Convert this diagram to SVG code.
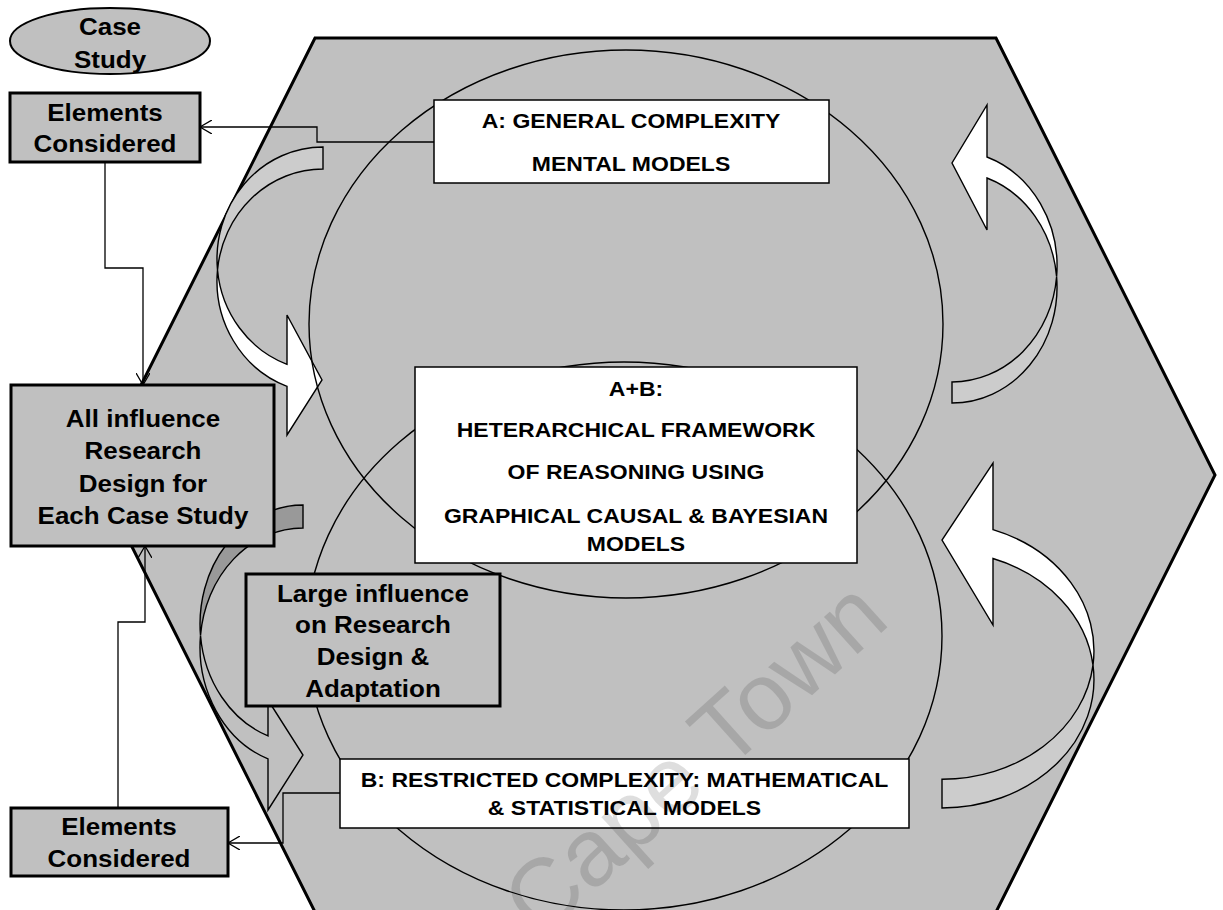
<svg xmlns="http://www.w3.org/2000/svg" width="1223" height="910" viewBox="0 0 1223 910">
  <defs>
    <style>
      .hex { fill: #c0c0c0; stroke: #000; stroke-width: 3; stroke-linejoin: miter; }
      .ring { fill: none; stroke: #000; stroke-width: 1.4; }
      .gbox { fill: #c0c0c0; stroke: #000; stroke-width: 3; }
      .wbox { fill: #fff; stroke: #000; stroke-width: 1.5; }
      .band { stroke: #000; stroke-width: 1.4; stroke-linejoin: miter; }
      .link { fill: none; stroke: #000; stroke-width: 1.3; }
      .big { font-family: "Liberation Sans", Arial, sans-serif; font-weight: bold; font-size: 23px; text-anchor: middle; fill: #000; }
      .cap { font-family: "Liberation Sans", Arial, sans-serif; font-weight: bold; font-size: 20px; text-anchor: middle; fill: #000; }
      .mark { font-family: "Liberation Sans", Arial, sans-serif; font-size: 95px; fill: #000; fill-opacity: 0.13; }
    </style>
    <marker id="open" viewBox="0 0 12 14" refX="12" refY="7" markerWidth="12" markerHeight="14" markerUnits="userSpaceOnUse" orient="auto">
      <path d="M0,0 L12,7 L0,14" fill="none" stroke="#000" stroke-width="1.3"/>
    </marker>
    <marker id="openBold" viewBox="0 0 22 24" refX="21" refY="12" markerWidth="22" markerHeight="24" markerUnits="userSpaceOnUse" orient="auto">
      <path d="M2,2 L20,12 L2,22" fill="none" stroke="#000" stroke-width="4" stroke-linecap="round" stroke-linejoin="round"/>
    </marker>
    <filter id="shadow" x="-10%" y="-100%" width="120%" height="300%">
      <feDropShadow dx="1" dy="3" stdDeviation="2" flood-color="#000" flood-opacity="0.35"/>
    </filter>
  </defs>

  <rect width="1223" height="910" fill="#fff"/>

  <!-- hexagonal frame -->
  <polygon id="frame" class="hex" points="315,38 996,38 1215,475 996,912 315,912 96,475"/>

  <!-- curved block arrows (back band, then front band with head) -->
  <g id="loop-top-left">
    <path class="band" fill="#cccccc" d="M323,147 A106,112 0 0 0 217.5,270 A106,112 0 0 1 323,169 Z"/>
    <path class="band" fill="#ffffff" d="M217.5,270 A106,112 0 0 0 287,386.3 L287,435 L322,380 L287,315 L287,364.3 A106,112 0 0 1 217.5,270 Z"/>
  </g>
  <g id="loop-top-right">
    <path class="band" fill="#cccccc" d="M952,382 A105,115.8 0 0 0 1056.6,276.7 A105,115.8 0 0 1 952,403 Z"/>
    <path class="band" fill="#ffffff" d="M1056.6,276.7 A105,115.8 0 0 0 987,157 L987,105 L952,163 L987,230 L987,178 A105,115.8 0 0 1 1056.6,276.7 Z"/>
  </g>
  <g id="loop-bottom-right">
    <path class="band" fill="#cccccc" d="M942,779.2 A152,128.5 0 0 0 1093,665.1 A152,128.5 0 0 1 942,808 Z"/>
    <path class="band" fill="#ffffff" d="M1093,665.1 A152,128.5 0 0 0 993,529.7 L993,463 L942,540 L993,625 L993,558.5 A152,128.5 0 0 1 1093,665.1 Z"/>
  </g>
  <g id="loop-bottom-left">
    <path class="band" fill="#999999" d="M303,505 A103,119 0 0 0 200.5,635.5 A103,119 0 0 1 303,528 Z"/>
    <path class="band" fill="#c0c0c0" d="M200.5,635.5 A103,119 0 0 0 268,758.9 L268,810 L303,755 L268,700 L268,735.9 A103,119 0 0 1 200.5,635.5 Z"/>
  </g>

  <!-- overlapping model domains -->
  <ellipse id="domain-a" class="ring" cx="626" cy="324" rx="317" ry="274"/>
  <ellipse id="domain-b" class="ring" cx="624" cy="636" rx="318" ry="274"/>

  <!-- connectors -->
  <g id="connectors">
    <polyline class="link" points="434,142 317,142 317,127 200,127" marker-end="url(#open)"/>
    <polyline class="link" points="340,793 283,793 283,843 228,843" marker-end="url(#open)"/>
    <polyline class="link" points="105,162 105,268 143,268 143,385" marker-end="url(#open)"/>
    <polyline class="link" points="118,808 118,622 145,622 145,546" marker-end="url(#open)"/>
    <line x1="415" y1="465" x2="277" y2="465" stroke="#000" stroke-width="4" marker-end="url(#openBold)" filter="url(#shadow)"/>
  </g>

  <!-- nodes -->
  <g id="case-study">
    <ellipse cx="110" cy="41" rx="100" ry="33" fill="#c0c0c0" stroke="#000" stroke-width="2"/>
    <text class="big" transform="translate(110 35) scale(1.13 1)">Case</text>
    <text class="big" transform="translate(110 68) scale(1.13 1)">Study</text>
  </g>

  <g id="elements-top">
    <rect class="gbox" x="10" y="93" width="190" height="69"/>
    <text class="big" transform="translate(105 121) scale(1.13 1)">Elements</text>
    <text class="big" transform="translate(105 152) scale(1.13 1)">Considered</text>
  </g>

  <g id="all-influence">
    <rect class="gbox" x="11" y="385" width="263" height="161"/>
    <text class="big" transform="translate(143 427) scale(1.13 1)">All influence</text>
    <text class="big" transform="translate(143 459) scale(1.13 1)">Research</text>
    <text class="big" transform="translate(143 492) scale(1.13 1)">Design for</text>
    <text class="big" transform="translate(143 524) scale(1.13 1)">Each Case Study</text>
  </g>

  <g id="large-influence">
    <rect class="gbox" x="246" y="574" width="254" height="132"/>
    <text class="big" transform="translate(373 602) scale(1.13 1)">Large influence</text>
    <text class="big" transform="translate(373 633) scale(1.13 1)">on Research</text>
    <text class="big" transform="translate(373 665) scale(1.13 1)">Design &amp;</text>
    <text class="big" transform="translate(373 697) scale(1.13 1)">Adaptation</text>
  </g>

  <g id="elements-bottom">
    <rect class="gbox" x="11" y="808" width="217" height="68"/>
    <text class="big" transform="translate(119 835) scale(1.13 1)">Elements</text>
    <text class="big" transform="translate(119 867) scale(1.13 1)">Considered</text>
  </g>

  <g id="box-a">
    <rect class="wbox" x="434" y="100" width="395" height="83"/>
    <text class="cap" transform="translate(631 128) scale(1.15 1)">A: GENERAL COMPLEXITY</text>
    <text class="cap" transform="translate(631 171) scale(1.15 1)">MENTAL MODELS</text>
  </g>

  <g id="box-ab">
    <rect class="wbox" x="415" y="367" width="442" height="196"/>
    <text class="cap" transform="translate(636 396) scale(1.15 1)">A+B:</text>
    <text class="cap" transform="translate(636 437) scale(1.15 1)">HETERARCHICAL FRAMEWORK</text>
    <text class="cap" transform="translate(636 479) scale(1.15 1)">OF REASONING USING</text>
    <text class="cap" transform="translate(636 523) scale(1.15 1)">GRAPHICAL CAUSAL &amp; BAYESIAN</text>
    <text class="cap" transform="translate(636 551) scale(1.15 1)">MODELS</text>
  </g>

  <g id="box-b">
    <rect class="wbox" x="340" y="759" width="569" height="69"/>
    <text class="cap" transform="translate(624.5 787) scale(1.15 1)">B: RESTRICTED COMPLEXITY: MATHEMATICAL</text>
    <text class="cap" transform="translate(624.5 815) scale(1.15 1)">&amp; STATISTICAL MODELS</text>
  </g>

  <!-- faint watermark lettering -->
  <text class="mark" transform="translate(540 940) rotate(-42)">Cape Town</text>
</svg>
